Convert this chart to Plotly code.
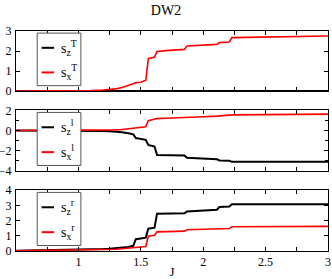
import plotly.graph_objects as go

# ---------------- data ----------------
J = [0.5, 0.6, 0.7, 0.8, 0.9, 1.0, 1.1, 1.2, 1.25, 1.3, 1.35, 1.4, 1.44, 1.46, 1.5,
     1.54, 1.56, 1.61, 1.63, 1.7, 1.8, 1.85, 1.87, 2.0, 2.11, 2.13, 2.21, 2.23,
     2.5, 2.75, 3.0]

sz_T = [0.0] * 31
sx_T = [0, 0, 0, 0, 0, 0.005, 0.02, 0.05, 0.07, 0.11, 0.18, 0.27, 0.37, 0.42, 0.44,
        0.54, 1.62, 1.70, 1.98, 2.02, 2.05, 2.08, 2.25, 2.28, 2.33, 2.42, 2.45, 2.67,
        2.70, 2.72, 2.75]

sz_l = [0, 0, 0, 0, 0, 0, -0.02, -0.05, -0.08, -0.12, -0.18, -0.28, -0.38, -0.75, -0.85,
        -0.92, -1.42, -1.58, -2.42, -2.44, -2.45, -2.47, -2.70, -2.75, -2.85, -2.97, -3.0, -3.1,
        -3.1, -3.1, -3.1]
sx_l = [0, 0, 0, 0, 0, 0, 0.01, 0.02, 0.03, 0.06, 0.10, 0.16, 0.22, 0.28, 0.32,
        0.38, 0.98, 1.12, 1.18, 1.22, 1.25, 1.30, 1.33, 1.36, 1.42, 1.44, 1.48, 1.55,
        1.57, 1.59, 1.62]

sz_r = [0.02, 0.03, 0.04, 0.05, 0.06, 0.08, 0.10, 0.13, 0.15, 0.18, 0.22, 0.27, 0.34, 0.78, 0.83,
        0.88, 1.47, 1.54, 2.46, 2.47, 2.47, 2.48, 2.60, 2.65, 2.72, 2.90, 2.93, 3.08,
        3.08, 3.08, 3.08]
sx_r = [0.01, 0.02, 0.02, 0.03, 0.04, 0.05, 0.06, 0.08, 0.10, 0.12, 0.15, 0.19, 0.22, 0.24, 0.26,
        0.30, 0.97, 1.04, 1.26, 1.28, 1.30, 1.31, 1.40, 1.42, 1.46, 1.47, 1.48, 1.60,
        1.61, 1.62, 1.62]

title = "DW2"
x_title = "J"
labels = [("s<sub>z</sub><sup>T</sup>", "s<sub>x</sub><sup>T</sup>"),
          ("s<sub>z</sub><sup>l</sup>", "s<sub>x</sub><sup>l</sup>"),
          ("s<sub>z</sub><sup>r</sup>", "s<sub>x</sub><sup>r</sup>")]
y_ranges = [[0, 3], [-4, 2], [0, 4]]
y_dticks = [1, 2, 1]
series = [(sz_T, sx_T), (sz_l, sx_l), (sz_r, sx_r)]

# ---------------- figure ----------------
FONT = "Liberation Serif, Times New Roman, serif"
fig = go.Figure()
domains = [[0.727, 1.0], [0.364, 0.6395], [0.0, 0.276]]

for i, (zs, xs) in enumerate(series):
    k = "" if i == 0 else str(i + 1)
    fig.add_trace(go.Scatter(x=J, y=zs, mode="lines", line=dict(color="black", width=2),
                             xaxis="x" + k, yaxis="y" + k, showlegend=False))
    fig.add_trace(go.Scatter(x=J, y=xs, mode="lines", line=dict(color="red", width=1.6),
                             xaxis="x" + k, yaxis="y" + k, showlegend=False))

axis_common = dict(showline=True, linecolor="black", linewidth=1, mirror="ticks",
                   ticks="inside", ticklen=4, tickcolor="black", showgrid=False,
                   zeroline=False, automargin=False,
                   tickfont=dict(family=FONT, size=12, color="black"))

for i in range(3):
    k = "" if i == 0 else str(i + 1)
    xa = dict(axis_common, range=[0.5, 3], domain=[0, 1], anchor="y" + k,
              dtick=0.5, tick0=0.5,
              minor=dict(dtick=0.25, ticks="inside", ticklen=4, tickcolor="black"),
              showticklabels=(i == 2))
    if i == 2:
        xa["tickvals"] = [1, 1.5, 2, 2.5, 3]
        xa["ticktext"] = ["1", "1.5", "2", "2.5", "3"]
        xa["title"] = dict(text=x_title, font=dict(family=FONT, size=13, color="black"),
                           standoff=7)
    ya = dict(axis_common, range=y_ranges[i], domain=domains[i], anchor="x" + k,
              dtick=y_dticks[i],
              minor=dict(dtick=1, ticks="inside", ticklen=3, tickcolor="black"),
              ticklabelstandoff=1)
    fig.layout["xaxis" + k] = xa
    fig.layout["yaxis" + k] = ya

    # legend box drawn in the panel's domain coordinates
    xr = ("x" + k) + " domain"
    yr = ("y" + k) + " domain"
    fig.add_shape(type="rect", xref=xr, yref=yr, x0=0.068, x1=0.208, y0=0.09, y1=0.965,
                  line=dict(color="#555", width=1), fillcolor="white", layer="above")
    for (yy, col) in [(0.72, "black"), (0.31, "red")]:
        fig.add_shape(type="line", xref=xr, yref=yr, x0=0.082, x1=0.122, y0=yy, y1=yy,
                      line=dict(color=col, width=2), layer="above")
    for j, yy in enumerate([0.72, 0.31]):
        fig.add_annotation(xref=xr, yref=yr, x=0.138, y=yy, xanchor="left", yanchor="middle",
                           text=labels[i][j], showarrow=False,
                           font=dict(family=FONT, size=14, color="black"))

fig.update_layout(
    width=332, height=279,
    margin=dict(l=16, r=4, t=31, b=28),
    paper_bgcolor="white", plot_bgcolor="white",
    title=dict(text=title, x=0.5, xanchor="center", y=0.965, yanchor="middle",
               font=dict(family=FONT, size=14, color="black")),
    showlegend=False,
)

fig.write_html("out.html", config={"displayModeBar": False},
               post_script="document.body.style.margin='0';document.body.style.overflow='hidden';")
